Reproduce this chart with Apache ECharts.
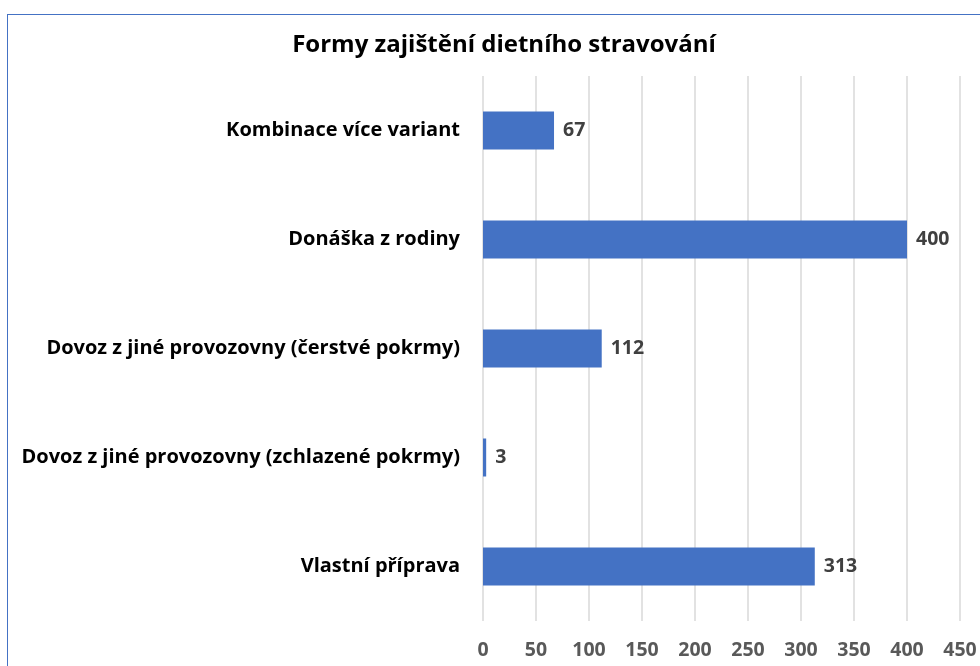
<!DOCTYPE html>
<html>
<head>
<meta charset="utf-8">
<script src="https://cdn.jsdelivr.net/npm/echarts@6/dist/echarts.min.js"></script>
<style>
  html, body { margin: 0; padding: 0; background: #fff; overflow: hidden; }
  #frame { position: absolute; left: 7px; top: 14px; width: 1000px; height: 700px; border: 1px solid #4472C4; }
  #chart { position: absolute; left: 0; top: 0; width: 980px; height: 666px; }
</style>
</head>
<body>
<div id="frame"></div>
<div id="chart"></div>
<script>
// top to bottom, as in the picture
const categories = [
  'Kombinace více variant',
  'Donáška z rodiny',
  'Dovoz z jiné provozovny (čerstvé pokrmy)',
  'Dovoz z jiné provozovny (zchlazené pokrmy)',
  'Vlastní příprava'
]
const values = [67, 400, 112, 3, 313]

const font = '"Open Sans", Lato, sans-serif'
const chart = echarts.init(document.getElementById('chart'))

chart.setOption({
  animation: false,
  textStyle: { fontFamily: font },
  title: {
    text: 'Formy zajištění dietního stravování',
    left: 499,
    textAlign: 'center',
    top: 28,
    textStyle: { fontFamily: font, fontSize: 24, fontWeight: 'bold', color: '#000' }
  },
  grid: { left: 483, right: 20, top: 76, bottom: 45 },
  xAxis: {
    type: 'value',
    min: 0,
    max: 450,
    interval: 50,
    axisLine: { show: false },
    axisTick: { show: false },
    axisLabel: { fontFamily: font, fontSize: 19.5, fontWeight: 'bold', color: '#595959', margin: 19 },
    splitLine: { lineStyle: { color: '#d9d9d9', width: 1.5 } }
  },
  yAxis: {
    type: 'category',
    inverse: true,
    data: categories,
    axisLine: { show: false },
    axisTick: { show: false },
    axisLabel: { fontFamily: font, fontSize: 20, fontWeight: 'bold', color: '#000', margin: 23 }
  },
  series: [{
    type: 'bar',
    data: values,
    barWidth: 38,
    itemStyle: { color: '#4472C4' },
    label: {
      show: true,
      position: 'right',
      distance: 9,
      fontFamily: font,
      fontSize: 19.5,
      fontWeight: 'bold',
      color: '#404040'
    }
  }]
})
</script>
</body>
</html>
